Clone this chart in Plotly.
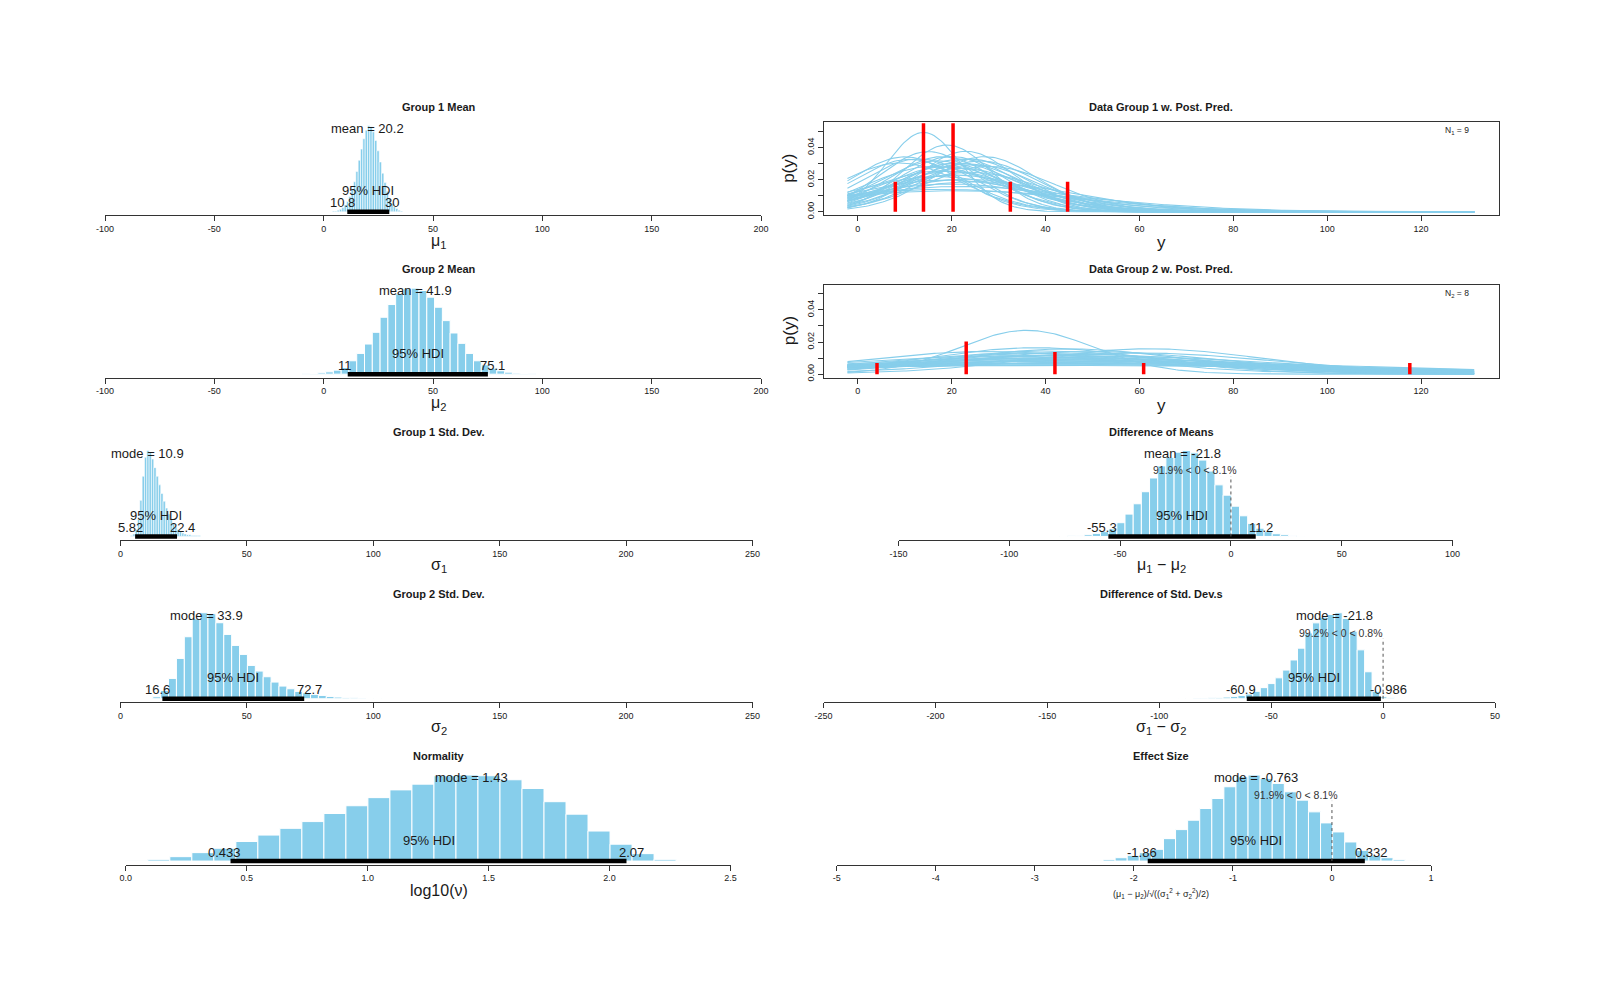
import math
import plotly.graph_objects as go

# ===================== DATA =====================
# Histogram bins: first edge, bin width, density heights (relative)
mu1_bin_start, mu1_bin_width = 4.0, 1.07
mu1_density = [1, 1, 2, 3, 5, 8, 12, 18, 26, 35, 47, 60, 73, 85, 95, 100, 99, 93, 83, 71,
               58, 45, 34, 24, 16, 10, 6, 4, 2, 1]

mu2_bin_start, mu2_bin_width = -9.8, 3.56
mu2_density = [1, 2, 4, 7, 12, 20, 40, 62, 90, 125, 170, 208, 240, 255, 257, 250, 230, 200,
               160, 123, 92, 62, 40, 28, 18, 10, 6, 3, 2, 1]

sigma1_bin_start, sigma1_bin_width = 4.0, 0.92
sigma1_density = [1, 3, 8, 20, 42, 70, 92, 100, 98, 90, 80, 70, 60, 50, 41, 33, 26, 20, 15,
                  11, 8, 6, 4, 3, 2, 2, 1, 1, 1, 1]

sigma2_bin_start, sigma2_bin_width = 12.8, 3.12
sigma2_density = [6, 25, 61, 121, 186, 240, 258, 255, 228, 193, 160, 133, 100, 83, 66, 50, 38,
                  30, 22, 18, 13, 10, 7, 5, 4, 3, 2, 1, 1]

lognu_bin_start, lognu_bin_width = 0.0, 0.091
lognu_density = [2, 5, 13, 25, 38, 58, 77, 97, 117, 141, 164, 188, 211, 228, 253, 255, 253,
                 241, 215, 176, 139, 89, 50, 22, 5, 1]

diffmu_bin_start, diffmu_bin_width = -77.3, 3.69
diffmu_density = [1, 2, 3, 5, 9, 14, 22, 40, 65, 95, 130, 170, 205, 230, 245, 250, 243, 222,
                  190, 150, 120, 88, 60, 38, 24, 14, 8, 5, 3, 1]

diffsd_bin_start, diffsd_bin_width = -91.5, 3.33
diffsd_density = [1, 1, 2, 2, 3, 4, 5, 7, 10, 14, 22, 33, 45, 62, 85, 115, 150, 195, 225, 242,
                  250, 255, 238, 200, 145, 80, 22, 6, 3, 1]

effect_bin_start, effect_bin_width = -2.433, 0.122
effect_density = [2, 5, 10, 17, 25, 35, 67, 94, 122, 157, 187, 222, 252, 257, 247, 232, 207,
                  182, 147, 114, 87, 57, 32, 17, 10, 5, 2]

# Summary statistics shown on each histogram
mu1_center, mu1_hdi = 20.2, (10.8, 30)
mu2_center, mu2_hdi = 41.9, (11, 75.1)
sigma1_center, sigma1_hdi = 10.9, (5.82, 22.4)
sigma2_center, sigma2_hdi = 33.9, (16.6, 72.7)
lognu_center, lognu_hdi = 1.43, (0.433, 2.07)
diffmu_center, diffmu_hdi, diffmu_pct_below = -21.8, (-55.3, 11.2), 91.9
diffsd_center, diffsd_hdi, diffsd_pct_below = -21.8, (-60.9, -0.986), 99.2
effect_center, effect_hdi, effect_pct_below = -0.763, (-1.86, 0.332), 91.9

# Tick values
ticks_mean = [-100, -50, 0, 50, 100, 150, 200]
ticks_sd = [0, 50, 100, 150, 200, 250]
ticks_lognu = [0.0, 0.5, 1.0, 1.5, 2.0, 2.5]
ticks_lognu_text = ["0.0", "0.5", "1.0", "1.5", "2.0", "2.5"]
ticks_diffmu = [-150, -100, -50, 0, 50, 100]
ticks_diffsd = [-250, -200, -150, -100, -50, 0, 50]
ticks_effect = [-5, -4, -3, -2, -1, 0, 1]
ticks_y = [0, 20, 40, 60, 80, 100, 120]
ticks_py = [0.0, 0.01, 0.02, 0.03, 0.04, 0.05]
ticks_py_text = ["0.00", "", "0.02", "", "0.04", ""]

# Observed data (histogram densities shown as red spikes)
y1_data_x = [8.0, 14.0, 20.3, 32.5, 44.7]
y1_data_density = [0.0187, 0.0552, 0.0552, 0.0187, 0.0187]
y2_data_x = [4.1, 23.1, 42.0, 60.9, 117.6]
y2_data_density = [0.0070, 0.0203, 0.0138, 0.0070, 0.0070]

pp1_mu = [14, 19, 10, 11, 18, 20, 22, 24, 17, 21, 23, 25, 19, 16, 22, 26, 20, 18, 24, 21,
          17, 23, 19, 25, 20, 22, 18, 21, 27, 15, 23, 20, 13, 28, 9]
pp1_sigma = [8, 9.5, 11.5, 12, 11.5, 11.5, 12, 12, 12.5, 13, 13, 13.5, 14, 14, 14.5, 12.5, 15,
             15.5, 16, 17, 18, 19, 20, 21, 22, 25, 28, 30, 11.5, 10.5, 10.5, 12.5, 12, 14, 13]
pp1_nu = [30, 30, 20, 15, 30, 40, 25, 20, 50, 30, 10, 30, 20, 40, 15, 30, 5, 30, 20, 10,
          30, 8, 30, 20, 6, 30, 15, 30, 25, 20, 30, 4, 30, 40, 30]

pp2_mu = [36, 45, 62, 40, 50, 35, 42, 48, 38, 44, 30, 55, 41, 46, 34, 52, 39, 47, 43, 36,
          58, 40, 45, 32, 50, 42, 60, 28, 54, 38]
pp2_sigma = [14.5, 25, 25, 27, 28, 30, 30, 32, 33, 34, 35, 36, 37, 38, 40, 41, 43, 45, 48, 50,
             52, 55, 58, 62, 66, 72, 30, 28, 47, 24]
pp2_nu = [30, 20, 30, 10, 30, 15, 40, 20, 8, 30, 20, 30, 5, 25, 30, 15, 30, 10, 30, 20,
          30, 6, 30, 20, 30, 15, 25, 30, 4, 30]
pp_x_min, pp_x_max = -2.2, 131.3

# ===================== LAYOUT / STYLE =====================
W, H = 1600, 1002
SKY = "#87CEEB"
TXT = "#1a1a1a"
FONT = "Liberation Sans, Arial, Helvetica, sans-serif"
ROW_TOP = [122.4 + 162.3 * r for r in range(5)]
ROW_BOT = [215.3 + 162.3 * r for r in range(5)]
LEFT_CX, RIGHT_CX = 438.8, 1161.0


def py(p):
    return 1 - p / H


def px(p):
    return p / W


def refs(i):
    return ("x" if i == 1 else f"x{i}"), ("y" if i == 1 else f"y{i}")


def keys(i):
    return ("xaxis" if i == 1 else f"xaxis{i}"), ("yaxis" if i == 1 else f"yaxis{i}")


def text_w(s, fs):
    w = 0.0
    for ch in s:
        if ch.isdigit():
            w += 0.556
        elif ch in ".":
            w += 0.278
        elif ch == "-":
            w += 0.333
        else:
            w += 0.5
    return w * fs


def fmt(v):
    return f"{v:g}"


fig = go.Figure()
lay = {}
ann = []

hist_panels = [
    dict(ax=1, row=0, cx=LEFT_CX, xpx=(105, 761), start=mu1_bin_start, bw=mu1_bin_width,
         dens=mu1_density, title="Group 1 Mean", xlabel="μ<sub>1</sub>", ticks=ticks_mean,
         ticktext=[str(t) for t in ticks_mean], stat="mean", center=mu1_center, hdi=mu1_hdi, comp=None),
    dict(ax=3, row=1, cx=LEFT_CX, xpx=(105, 761), start=mu2_bin_start, bw=mu2_bin_width,
         dens=mu2_density, title="Group 2 Mean", xlabel="μ<sub>2</sub>", ticks=ticks_mean,
         ticktext=[str(t) for t in ticks_mean], stat="mean", center=mu2_center, hdi=mu2_hdi, comp=None),
    dict(ax=5, row=2, cx=LEFT_CX, xpx=(120.4, 752.5), start=sigma1_bin_start, bw=sigma1_bin_width,
         dens=sigma1_density, title="Group 1 Std. Dev.", xlabel="σ<sub>1</sub>", ticks=ticks_sd,
         ticktext=[str(t) for t in ticks_sd], stat="mode", center=sigma1_center, hdi=sigma1_hdi, comp=None),
    dict(ax=7, row=3, cx=LEFT_CX, xpx=(120.4, 752.5), start=sigma2_bin_start, bw=sigma2_bin_width,
         dens=sigma2_density, title="Group 2 Std. Dev.", xlabel="σ<sub>2</sub>", ticks=ticks_sd,
         ticktext=[str(t) for t in ticks_sd], stat="mode", center=sigma2_center, hdi=sigma2_hdi, comp=None),
    dict(ax=9, row=4, cx=LEFT_CX, xpx=(125.8, 730.5), start=lognu_bin_start, bw=lognu_bin_width,
         dens=lognu_density, title="Normality", xlabel="log10(ν)", ticks=ticks_lognu,
         ticktext=ticks_lognu_text, stat="mode", center=lognu_center, hdi=lognu_hdi, comp=None),
    dict(ax=6, row=2, cx=RIGHT_CX, xpx=(898.5, 1452.5), start=diffmu_bin_start, bw=diffmu_bin_width,
         dens=diffmu_density, title="Difference of Means", xlabel="μ<sub>1</sub> − μ<sub>2</sub>",
         ticks=ticks_diffmu, ticktext=[str(t) for t in ticks_diffmu], stat="mean",
         center=diffmu_center, hdi=diffmu_hdi, comp=diffmu_pct_below),
    dict(ax=8, row=3, cx=RIGHT_CX, xpx=(823.5, 1495), start=diffsd_bin_start, bw=diffsd_bin_width,
         dens=diffsd_density, title="Difference of Std. Dev.s", xlabel="σ<sub>1</sub> − σ<sub>2</sub>",
         ticks=ticks_diffsd, ticktext=[str(t) for t in ticks_diffsd], stat="mode",
         center=diffsd_center, hdi=diffsd_hdi, comp=diffsd_pct_below),
    dict(ax=10, row=4, cx=RIGHT_CX, xpx=(836.7, 1431), start=effect_bin_start, bw=effect_bin_width,
         dens=effect_density, title="Effect Size",
         xlabel="(μ<sub>1</sub> − μ<sub>2</sub>)/√((σ<sub>1</sub><sup>2</sup> + σ<sub>2</sub><sup>2</sup>)/2)",
         ticks=ticks_effect, ticktext=[str(t) for t in ticks_effect], stat="mode",
         center=effect_center, hdi=effect_hdi, comp=effect_pct_below),
]

for p in hist_panels:
    i = p["ax"]
    xr, yr = refs(i)
    xk, yk = keys(i)
    r = p["row"]
    dens = p["dens"]
    M = max(dens)
    x0, x1 = p["ticks"][0], p["ticks"][-1]
    ppu = (p["xpx"][1] - p["xpx"][0]) / (x1 - x0)
    bar_px = p["bw"] * ppu
    centers = [p["start"] + p["bw"] * (k + 0.5) for k in range(len(dens))]
    fig.add_trace(go.Bar(x=centers, y=dens, width=[p["bw"]] * len(dens),
                         marker=dict(color=SKY, line=dict(color="white", width=min(1.0, bar_px * 0.25))),
                         xaxis=xr, yaxis=yr, showlegend=False, hoverinfo="skip"))
    lo, hi = p["hdi"]
    fig.add_trace(go.Scatter(x=[lo, hi], y=[0, 0], mode="lines", line=dict(color="black", width=4.5),
                             xaxis=xr, yaxis=yr, showlegend=False, hoverinfo="skip"))
    lay[xk] = dict(domain=[px(p["xpx"][0]), px(p["xpx"][1])], anchor=yr, range=[x0, x1],
                   tickvals=p["ticks"], ticktext=p["ticktext"], showline=True, linecolor="#333",
                   linewidth=1, ticks="outside", ticklen=5, tickcolor="#333", tickwidth=1,
                   tickfont=dict(size=9, color=TXT, family=FONT), showgrid=False, zeroline=False,
                   automargin=False)
    lay[yk] = dict(domain=[py(ROW_BOT[r]), py(ROW_TOP[r])], anchor=xr, range=[-0.04 * M, 1.04 * M],
                   visible=False, showgrid=False, zeroline=False, automargin=False)
    ann.append(dict(x=p["center"], y=0.9 * M, xref=xr, yref=yr, text=f"{p['stat']} = {fmt(p['center'])}",
                    showarrow=False, xanchor="center", yanchor="middle", yshift=6,
                    font=dict(size=13, color=TXT, family=FONT)))
    ann.append(dict(x=(lo + hi) / 2, y=0, xref=xr, yref=yr, text="95% HDI", showarrow=False,
                    xanchor="center", yanchor="middle", yshift=21, font=dict(size=13, color=TXT, family=FONT)))
    lo_t, hi_t = fmt(lo), fmt(hi)
    ann.append(dict(x=lo, y=0, xref=xr, yref=yr, text=lo_t, showarrow=False, xanchor="center",
                    yanchor="middle", yshift=9, xshift=-0.2 * text_w(lo_t, 13),
                    font=dict(size=13, color=TXT, family=FONT)))
    ann.append(dict(x=hi, y=0, xref=xr, yref=yr, text=hi_t, showarrow=False, xanchor="center",
                    yanchor="middle", yshift=9, xshift=0.2 * text_w(hi_t, 13),
                    font=dict(size=13, color=TXT, family=FONT)))
    if p["comp"] is not None:
        below = p["comp"]
        above = round(100 - below, 1)
        ctext = f"{below:g}% &lt; 0 &lt; {above:g}%"
        wc = 87
        fig.add_trace(go.Scatter(x=[0, 0], y=[0, 0.7 * M], mode="lines",
                                 line=dict(color="#555", width=1, dash="dot"),
                                 xaxis=xr, yaxis=yr, showlegend=False, hoverinfo="skip"))
        ann.append(dict(x=0, y=0.7 * M, xref=xr, yref=yr, text=ctext, showarrow=False,
                        xanchor="center", yanchor="middle", yshift=6, xshift=(0.5 - below / 100) * wc,
                        font=dict(size=10.5, color="#333", family=FONT)))
    ann.append(dict(x=px(p["cx"]), y=py(107 + 162.3 * r), xref="paper", yref="paper",
                    text=f"<b>{p['title']}</b>", showarrow=False, xanchor="center", yanchor="middle",
                    font=dict(size=11, color=TXT, family=FONT)))
    small = p["ax"] == 10
    ann.append(dict(x=px(p["cx"]), y=py((244 if small else 241) + 162.3 * r), xref="paper", yref="paper",
                    text=p["xlabel"], showarrow=False, xanchor="center", yanchor="middle",
                    font=dict(size=9 if small else 16, color=TXT, family=FONT)))

# ===================== posterior predictive panels =====================
def t_density(x, mu, s, nu):
    z = (x - mu) / s
    c = math.exp(math.lgamma((nu + 1) / 2) - math.lgamma(nu / 2)) / (math.sqrt(nu * math.pi) * s)
    return c * (1 + z * z / nu) ** (-(nu + 1) / 2)


n_grid = 268
xs = [pp_x_min + (pp_x_max - pp_x_min) * k / (n_grid - 1) for k in range(n_grid)]

pp_panels = [
    dict(ax=2, row=0, mu=pp1_mu, sigma=pp1_sigma, nu=pp1_nu, dx=y1_data_x, dy=y1_data_density,
         title="Data Group 1 w. Post. Pred.", n="N<sub>1</sub> = 9"),
    dict(ax=4, row=1, mu=pp2_mu, sigma=pp2_sigma, nu=pp2_nu, dx=y2_data_x, dy=y2_data_density,
         title="Data Group 2 w. Post. Pred.", n="N<sub>2</sub> = 8"),
]

for p in pp_panels:
    i = p["ax"]
    xr, yr = refs(i)
    xk, yk = keys(i)
    r = p["row"]
    cx, cy = [], []
    for mu, s, nu in zip(p["mu"], p["sigma"], p["nu"]):
        cx += xs + [None]
        cy += [t_density(x, mu, s, nu) for x in xs] + [None]
    fig.add_trace(go.Scatter(x=cx, y=cy, mode="lines", line=dict(color=SKY, width=1.1),
                             xaxis=xr, yaxis=yr, showlegend=False, hoverinfo="skip"))
    rx, ry = [], []
    for x, d in zip(p["dx"], p["dy"]):
        rx += [x, x, None]
        ry += [0, d, None]
    fig.add_trace(go.Scatter(x=rx, y=ry, mode="lines", line=dict(color="red", width=3.5),
                             xaxis=xr, yaxis=yr, showlegend=False, hoverinfo="skip"))
    lay[xk] = dict(domain=[px(823.5), px(1499)], anchor=yr, range=[-7.3, 136.6], tickvals=ticks_y,
                   showline=True, mirror=True, linecolor="#333", linewidth=1, ticks="outside",
                   ticklen=5, tickcolor="#333", tickfont=dict(size=9, color=TXT, family=FONT),
                   showgrid=False, zeroline=False, automargin=False)
    lay[yk] = dict(domain=[py(ROW_BOT[r]), py(ROW_TOP[r])], anchor=xr, range=[-0.00214, 0.0557],
                   tickvals=ticks_py, ticktext=ticks_py_text, tickangle=-90, showline=True, mirror=True,
                   linecolor="#333", linewidth=1, ticks="outside", ticklen=5, tickcolor="#333",
                   tickfont=dict(size=9, color=TXT, family=FONT), showgrid=False, zeroline=False,
                   automargin=False)
    ann.append(dict(x=px(RIGHT_CX), y=py(107 + 162.3 * r), xref="paper", yref="paper",
                    text=f"<b>{p['title']}</b>", showarrow=False, xanchor="center", yanchor="middle",
                    font=dict(size=11, color=TXT, family=FONT)))
    ann.append(dict(x=px(RIGHT_CX), y=py(243 + 162.3 * r), xref="paper", yref="paper",
                    text="y", showarrow=False, xanchor="center", yanchor="middle",
                    font=dict(size=17, color=TXT, family=FONT)))
    ann.append(dict(x=px(789), y=py((ROW_TOP[r] + ROW_BOT[r]) / 2), xref="paper", yref="paper",
                    text="p(y)", showarrow=False, xanchor="center", yanchor="middle", textangle=-90,
                    font=dict(size=17, color=TXT, family=FONT)))
    ann.append(dict(x=px(1457), y=py(ROW_TOP[r] + 8.5), xref="paper", yref="paper",
                    text=p["n"], showarrow=False, xanchor="center", yanchor="middle",
                    font=dict(size=8.5, color=TXT, family=FONT)))

fig.update_layout(template="none", width=W, height=H, autosize=False, margin=dict(l=0, r=0, t=0, b=0, pad=0),
                  paper_bgcolor="white", plot_bgcolor="white", showlegend=False, annotations=ann,
                  font=dict(family=FONT, color=TXT), **lay)

fig.write_html("out.html", config={"displayModeBar": False, "responsive": False},
               post_script="document.body.style.margin='0';document.body.style.overflow='hidden';")
